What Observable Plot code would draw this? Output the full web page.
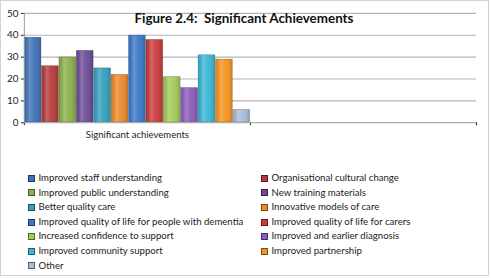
<!DOCTYPE html>
<html>
<head>
<meta charset="utf-8">
<script src="https://cdn.jsdelivr.net/npm/d3@7"></script>
<script src="https://cdn.jsdelivr.net/npm/@observablehq/plot@0.6"></script>
<style>
  html, body { margin: 0; padding: 0; background: #fff; }
  #wrap { position: relative; width: 489px; height: 276px; box-sizing: border-box;
          border: 1px solid #d4d4d4; font-family: Lato, "Open Sans", sans-serif; color: #222; overflow: hidden; }
  #chart { position: absolute; left: -1px; top: -1px; }
  #title { position: absolute; left: 0; top: 9px; width: 486px; text-align: center;
           font-weight: bold; font-size: 13.4px; color: #111; }
  #legend { position: absolute; left: 26px; top: 170px; display: grid;
            grid-template-columns: 233px 200px; row-gap: 0; font-size: 9.6px; color: #222; }
  .item { height: 14.6px; line-height: 14.6px; white-space: nowrap; display: flex; align-items: center; }
  .sw { width: 5px; height: 5px; margin-left: 1px; margin-right: 3.5px; border: 0.5px solid rgba(0,0,0,0.5); flex: none; }
</style>
</head>
<body>
<div id="wrap">
  <div id="chart"></div>
  <div id="title">Figure 2.4:&nbsp; Significant Achievements</div>
  <div id="legend"></div>
</div>
<script>
const categories = ["Significant achievements", ""];
const series = [
  "Improved staff understanding",
  "Organisational cultural change",
  "Improved public understanding",
  "New training materials",
  "Better quality care",
  "Innovative models of care",
  "Improved quality of life for people with dementia",
  "Improved quality of life for carers",
  "Increased confidence to support",
  "Improved and earlier diagnosis",
  "Improved community support",
  "Improved partnership",
  "Other"
];
const values = [39, 26, 30, 33, 25, 22, 40, 38, 21, 16, 31, 29, 6];
const colors = [
  "#3d72b6", "#b8393a", "#8cb04a", "#6b4b95", "#34a2bf", "#ee892c",
  "#3a78c9", "#cc3a3a", "#a2cc58", "#8a5dbd", "#3ab6d6", "#f6941f",
  "#a9bcd9"
];
const yTicks = [0, 10, 20, 30, 40, 50];

const perCategory = series.length;
const data = series.map((s, i) => ({category: categories[0], series: s, value: values[i], index: i}));

const chart = Plot.plot({
  width: 491,
  height: 150,
  marginLeft: 24,
  marginRight: 12,
  marginTop: 13,
  marginBottom: 27,
  style: {fontFamily: "Lato, 'Open Sans', sans-serif", fontSize: "10px", color: "#222", background: "transparent", overflow: "visible"},
  x: {domain: [0, perCategory * categories.length], ticks: [0, perCategory, perCategory * 2], tickFormat: () => "", tickSize: 3, label: null},
  y: {domain: [0, 50], ticks: yTicks, tickSize: 3, tickPadding: 3, label: null},
  color: {domain: series, range: colors},
  marks: [
    Plot.ruleY(yTicks.filter(d => d > 0), {stroke: "#b4b4b4", strokeWidth: 1.1}),
    Plot.rectY(data, {
      x1: d => d.index, x2: d => d.index + 1, y: "value",
      fill: "series", stroke: "rgba(0,0,0,0.35)", strokeWidth: 0.6, inset: 0.3
    }),
    Plot.rectY(data, {
      x1: d => d.index, x2: d => d.index + 1, y: "value",
      fill: "url(#barShine)", inset: 0.6
    }),
    Plot.ruleX([0], {stroke: "#999"}),
    Plot.ruleY([0], {stroke: "#999"}),
    Plot.text(categories, {x: (d, i) => (i + 0.5) * perCategory, frameAnchor: "bottom", dy: 15, text: d => d, fontSize: 9.6, fill: "#222"})
  ]
});
const ns = "http://www.w3.org/2000/svg";
const defs = document.createElementNS(ns, "defs");
defs.innerHTML = `<linearGradient id="barShine" x1="0" x2="1" y1="0" y2="0">
  <stop offset="0" stop-color="#000" stop-opacity="0.08"/>
  <stop offset="0.3" stop-color="#fff" stop-opacity="0.22"/>
  <stop offset="0.6" stop-color="#fff" stop-opacity="0.05"/>
  <stop offset="1" stop-color="#000" stop-opacity="0.15"/>
</linearGradient>`;
chart.insertBefore(defs, chart.firstChild);
document.getElementById("chart").appendChild(chart);

const legend = document.getElementById("legend");
series.forEach((s, i) => {
  const div = document.createElement("div");
  div.className = "item";
  const sw = document.createElement("span");
  sw.className = "sw";
  sw.style.background = colors[i];
  div.appendChild(sw);
  div.appendChild(document.createTextNode(s));
  legend.appendChild(div);
});
</script>
</body>
</html>
